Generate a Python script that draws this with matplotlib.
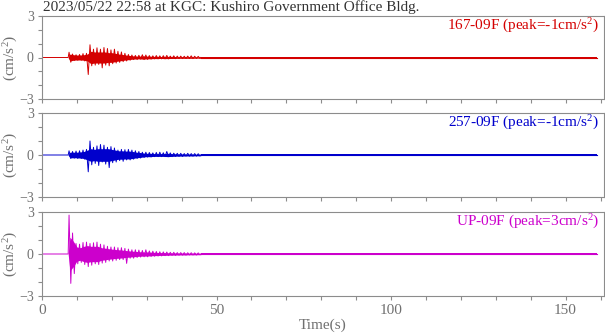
import numpy as np
import matplotlib
matplotlib.use("Agg")
import matplotlib.pyplot as plt
from matplotlib.ticker import MultipleLocator, FuncFormatter

plt.rcParams["font.family"] = ["Liberation Serif", "DejaVu Serif"]
plt.rcParams["mathtext.fontset"] = "custom"
plt.rcParams["mathtext.rm"] = "Liberation Serif"
plt.rcParams["mathtext.it"] = "Liberation Serif:italic"

title = "2023/05/22 22:58 at KGC: Kushiro Government Office Bldg."
names = ["167-09F (peak=-1cm/s$^2$)", "257-09F (peak=-1cm/s$^2$)", "UP-09F (peak=3cm/s$^2$)"]
colors = ["#d40000", "#0000cc", "#cc00cc"]

# strong-motion part in 1-s bins starting at 7.5 s:
# hi/lo = largest swing up/down in the bin, core = half width of the dense band
t_start = 7.5
hi_167 = [0.38, 0.25, 0.20, 0.22, 0.28, 0.30, 0.92, 0.60, 0.70, 0.60, 0.72, 0.65, 0.55, 0.60,
          0.45, 0.40, 0.30, 0.22, 0.18, 0.15, 0.16, 0.20, 0.18, 0.14, 0.12, 0.14, 0.12, 0.13,
          0.15, 0.10, 0.12, 0.10, 0.10, 0.09, 0.10, 0.12, 0.09, 0.08]
lo_167 = [-0.34, -0.22, -0.20, -0.20, -0.25, -1.23, -0.60, -0.55, -0.50, -0.75, -0.55, -0.60,
          -0.45, -0.40, -0.35, -0.30, -0.25, -0.20, -0.15, -0.15, -0.12, -0.15, -0.14, -0.12,
          -0.10, -0.10, -0.10, -0.10, -0.10, -0.08, -0.09, -0.08, -0.08, -0.07, -0.07, -0.08,
          -0.07, -0.06]
core_167 = [0.25, 0.20, 0.18, 0.18, 0.20, 0.25, 0.45, 0.40, 0.40, 0.40, 0.40, 0.35, 0.35, 0.30,
            0.25, 0.22, 0.18, 0.15, 0.12, 0.10, 0.10, 0.12, 0.10, 0.09, 0.08, 0.08, 0.07, 0.08,
            0.08, 0.07, 0.07, 0.06, 0.06, 0.06, 0.06, 0.06, 0.05, 0.05]

hi_257 = [0.30, 0.25, 0.28, 0.30, 0.35, 0.40, 1.00, 0.55, 0.65, 0.75, 0.70, 0.55, 0.60, 0.50,
          0.35, 0.40, 0.38, 0.40, 0.35, 0.30, 0.25, 0.20, 0.20, 0.18, 0.15, 0.18, 0.20, 0.16,
          0.25, 0.15, 0.13, 0.12, 0.12, 0.10, 0.12, 0.10, 0.10, 0.09]
lo_257 = [-0.25, -0.22, -0.25, -0.25, -0.30, -1.20, -0.70, -0.60, -0.75, -0.50, -0.65, -0.90,
          -0.55, -0.50, -0.40, -0.45, -0.35, -0.35, -0.30, -0.25, -0.22, -0.18, -0.15, -0.14,
          -0.12, -0.12, -0.12, -0.12, -0.12, -0.12, -0.10, -0.10, -0.10, -0.08, -0.08, -0.08,
          -0.08, -0.07]
core_257 = [0.20, 0.20, 0.20, 0.22, 0.25, 0.35, 0.45, 0.40, 0.45, 0.45, 0.45, 0.45, 0.40, 0.35,
            0.30, 0.30, 0.28, 0.28, 0.25, 0.20, 0.18, 0.14, 0.12, 0.12, 0.10, 0.10, 0.10, 0.10,
            0.12, 0.10, 0.09, 0.08, 0.08, 0.07, 0.07, 0.07, 0.06, 0.06]

hi_up = [2.78, 1.50, 0.75, 0.70, 0.82, 0.85, 0.75, 0.80, 0.85, 0.70, 0.65, 0.55, 0.50, 0.50,
         0.45, 0.45, 0.40, 0.35, 0.30, 0.30, 0.28, 0.25, 0.30, 0.22, 0.20, 0.18, 0.16, 0.15,
         0.14, 0.12, 0.12, 0.10, 0.10, 0.10, 0.09, 0.09, 0.08, 0.08]
lo_up = [-2.10, -1.40, -0.70, -0.60, -0.75, -0.90, -0.80, -0.70, -0.75, -0.65, -0.60, -0.50,
         -0.50, -0.45, -0.40, -0.40, -0.67, -0.30, -0.30, -0.25, -0.22, -0.20, -0.20, -0.18,
         -0.16, -0.15, -0.14, -0.12, -0.12, -0.10, -0.10, -0.09, -0.08, -0.08, -0.07, -0.07,
         -0.07, -0.06]
core_up = [1.20, 0.90, 0.50, 0.45, 0.55, 0.60, 0.55, 0.55, 0.55, 0.45, 0.42, 0.38, 0.35, 0.32,
           0.30, 0.28, 0.25, 0.22, 0.20, 0.18, 0.16, 0.15, 0.15, 0.13, 0.12, 0.11, 0.10, 0.10,
           0.09, 0.08, 0.08, 0.07, 0.07, 0.07, 0.06, 0.06, 0.06, 0.05]

# coda / noise envelope in 5-s bins from 45.5 s to the end of record
tail_start, tail_end = 45.5, 159.0
tail_167 = [0.05, 0.05, 0.045, 0.045, 0.04, 0.04, 0.04, 0.04, 0.04, 0.04, 0.04, 0.04,
            0.04, 0.04, 0.04, 0.04, 0.04, 0.04, 0.04, 0.04, 0.04, 0.04, 0.04]
tail_257 = [0.05, 0.05, 0.05, 0.045, 0.045, 0.04, 0.04, 0.04, 0.04, 0.04, 0.04, 0.04,
            0.04, 0.04, 0.04, 0.04, 0.04, 0.04, 0.04, 0.04, 0.04, 0.04, 0.04]
tail_up = [0.05, 0.045, 0.045, 0.04, 0.04, 0.04, 0.04, 0.04, 0.04, 0.04, 0.04, 0.04,
           0.04, 0.04, 0.04, 0.04, 0.04, 0.04, 0.04, 0.04, 0.04, 0.04, 0.04]

traces = [(hi_167, lo_167, core_167, tail_167),
          (hi_257, lo_257, core_257, tail_257),
          (hi_up, lo_up, core_up, tail_up)]

W, H = 605, 334
fig = plt.figure(figsize=(W / 100, H / 100), dpi=100)
gray = "#8c8c8c"
tick_gray = "#707070"

panel_px = [(16, 99), (113, 197), (212, 296)]   # top/bottom pixel rows
x0, x1 = 42, 604

for p, ((hi, lo, core, tail), name, col) in enumerate(zip(traces, names, colors)):
    top, bot = panel_px[p]
    ax = fig.add_axes([x0 / W, 1 - bot / H, (x1 - x0) / W, (bot - top) / H])

    n = len(hi)
    # dense band
    tc = np.concatenate([[t_start], t_start + np.arange(n) + 0.5, [t_start + n]])
    cc = np.concatenate([[0.02], core, [tail[0]]])
    ax.fill_between(tc, -cc, cc, color=col, lw=0)

    # single swings
    t_hi = t_start + np.arange(n) + 0.25
    t_lo = t_start + np.arange(n) + 0.75
    t = np.column_stack([t_hi, t_lo]).ravel()
    v = np.column_stack([hi, lo]).ravel()
    t = np.concatenate([[0, t_start], t, [t_start + n]])
    v = np.concatenate([[0, 0], v, [0]])
    ax.plot(t, v, color=col, lw=0.7)

    # noise after the strong part
    edges = np.minimum(tail_start + 5 * np.arange(len(tail) + 1), tail_end)
    amp = np.append(tail, tail[-1])
    ax.fill_between(edges, -amp, amp, step="post", color=col, lw=0)
    ax.plot([t_start + n, tail_end], [0, 0], color=col, lw=0.8)

    ax.set_xlim(0, 161)
    ax.set_ylim(-3, 3)
    ax.set_yticks([-3, 0, 3])
    ax.yaxis.set_minor_locator(MultipleLocator(1))
    ax.xaxis.set_major_locator(MultipleLocator(10))
    ax.xaxis.set_major_formatter(FuncFormatter(lambda x, pos: f"{x:.0f}" if x % 50 == 0 else ""))
    ax.tick_params(which="both", direction="out", length=3, width=0.8, color=gray,
                   labelcolor=tick_gray, labelsize=11, pad=3)
    ax.tick_params(axis="y", labelsize=10)
    for s in ax.spines.values():
        s.set_color(gray)
        s.set_linewidth(0.8)
    if p < 2:
        ax.tick_params(axis="x", labelbottom=False)
    else:
        ax.set_xlabel("Time(s)", color=tick_gray, fontsize=11, labelpad=1)

    ax.set_ylabel("(cm/s$^2$)", color=tick_gray, fontsize=11)
    ax.yaxis.set_label_coords(-0.040, 0.5)
    ax.text(0.991, 0.885, name, transform=ax.transAxes, ha="right", va="center",
            color=col, fontsize=11)

fig.text(43 / W, 1 - 7.5 / H, title, ha="left", va="center", color="#333333", fontsize=11)

fig.savefig("out.png", dpi=100)
